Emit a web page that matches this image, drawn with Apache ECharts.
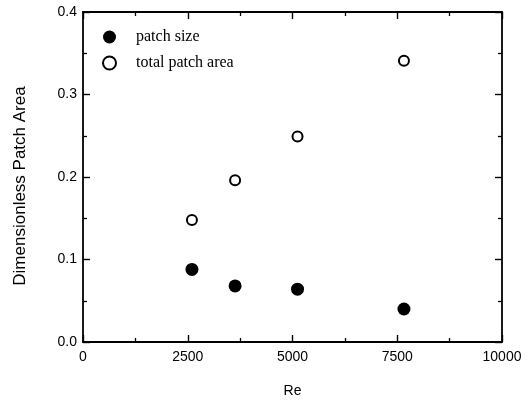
<!DOCTYPE html>
<html>
<head>
<meta charset="utf-8">
<script src="https://cdn.jsdelivr.net/npm/echarts@6/dist/echarts.min.js"></script>
<style>
  html, body { margin: 0; padding: 0; background: #fff; }
  #chart { width: 532px; height: 405px; }
</style>
</head>
<body>
<div id="chart"></div>
<script>
// data
var reValues = [2600, 3630, 5120, 7660];
var patchSize = [0.088, 0.068, 0.064, 0.040];
var totalPatchArea = [0.148, 0.196, 0.249, 0.341];
var seriesNames = ['patch size', 'total patch area'];

function pairs(xs, ys) {
    var out = [];
    for (var i = 0; i < xs.length; i++) out.push([xs[i], ys[i]]);
    return out;
}

var sans = 'Liberation Sans, Arial, sans-serif';
var serif = 'Liberation Serif, Times New Roman, serif';

var axisLine = { show: true, onZero: false, lineStyle: { color: '#000', width: 1.8 } };
var tick = { show: true, inside: true, length: 7, lineStyle: { color: '#000', width: 1.4 } };
var minor = { show: true, splitNumber: 2, length: 4, lineStyle: { color: '#000', width: 1.3 } };

var myChart = echarts.init(document.getElementById('chart'));
var option = {
    animation: false,
    grid: { left: 83, right: 30, top: 12, bottom: 63 },
    legend: {
        orient: 'vertical',
        left: 102,
        top: 29,
        padding: 0,
        itemWidth: 13,
        itemHeight: 13,
        itemGap: 10,
        data: seriesNames,
        textStyle: { fontFamily: serif, fontSize: 16, lineHeight: 16, color: '#000', padding: [0, 0, 0, 15] }
    },
    xAxis: [{
        type: 'value', min: 0, max: 10000, interval: 2500,
        position: 'bottom',
        name: 'Re', nameLocation: 'middle', nameGap: 42,
        nameTextStyle: { fontFamily: sans, fontSize: 14, color: '#000' },
        axisLine: axisLine, axisTick: tick, minorTick: minor,
        axisLabel: { fontFamily: sans, fontSize: 14, color: '#000', margin: 8,
            formatter: function (v) { return String(v); } },
        splitLine: { show: false }
    }, {
        type: 'value', min: 0, max: 10000, interval: 2500,
        position: 'top',
        axisLine: axisLine, axisTick: tick, minorTick: minor,
        axisLabel: { show: false }, splitLine: { show: false }
    }],
    yAxis: [{
        type: 'value', min: 0, max: 0.4, interval: 0.1,
        position: 'left',
        name: 'Dimensionless Patch Area', nameLocation: 'middle', nameGap: 54,
        nameTextStyle: { fontFamily: sans, fontSize: 17, color: '#000', padding: [0, 18, 0, 0] },
        axisLine: axisLine, axisTick: tick, minorTick: minor,
        axisLabel: { fontFamily: sans, fontSize: 14, color: '#000', margin: 6,
            formatter: function (v) { return v.toFixed(1); } },
        splitLine: { show: false }
    }, {
        type: 'value', min: 0, max: 0.4, interval: 0.1,
        position: 'right',
        axisLine: axisLine, axisTick: tick, minorTick: minor,
        axisLabel: { show: false }, splitLine: { show: false }
    }],
    series: [{
        name: seriesNames[0],
        type: 'scatter',
        symbol: 'circle',
        symbolSize: 13,
        itemStyle: { color: '#000', opacity: 1 },
        data: pairs(reValues, patchSize)
    }, {
        name: seriesNames[1],
        type: 'scatter',
        symbol: 'circle',
        symbolSize: 10,
        itemStyle: { color: '#fff', borderColor: '#000', borderWidth: 2, opacity: 1 },
        data: pairs(reValues, totalPatchArea)
    }]
};
myChart.setOption(option);
</script>
</body>
</html>
